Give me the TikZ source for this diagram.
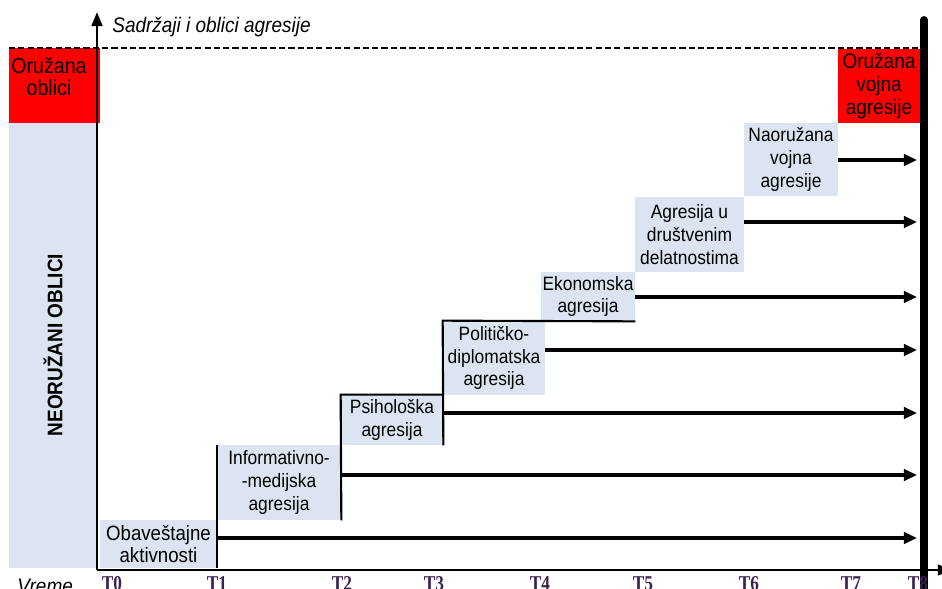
\documentclass[tikz,border=0pt]{standalone}
\usepackage{fontspec}
\setmainfont{Liberation Sans}[FakeStretch=0.9]
\newfontfamily\tfont{Liberation Serif}[FakeStretch=0.82]
\usetikzlibrary{arrows.meta}
\definecolor{boxblue}{RGB}{219,228,240}
\definecolor{tcol}{RGB}{60,32,80}
\begin{document}
\begin{tikzpicture}[x=0.02cm,y=-0.02cm,
  box/.style={fill=boxblue, inner sep=0pt, align=center, font=\fontsize{11}{13}\selectfont},
  redbox/.style={fill=red, inner sep=0pt},
  txt/.style={inner sep=0pt, align=center, font=\fontsize{12.4}{12.6}\selectfont},
  arr/.style={line width=1.8pt, -{Triangle[length=7.5pt,width=6.5pt]}},
  stair/.style={line width=1.2pt},
  lbl/.style={font=\tfont\bfseries\fontsize{12}{13}\selectfont, text=tcol, anchor=base, inner sep=0pt}]
\useasboundingbox (0,0) rectangle (942,588);

% side panels
\node[box, minimum width=1.76cm, minimum height=8.9cm] (blueL) at (53,345.5) {};
\node[redbox, minimum width=1.82cm, minimum height=1.5cm] (redL) at (54.5,85.5) {};
\node[txt] (redLt) at (49,77) {Oružana\\oblici};
\node[redbox, minimum width=1.64cm, minimum height=1.5cm, align=center, font=\fontsize{12}{13.2}\selectfont] (redR) at (879,86) {Oružana\\vojna\\agresije};
\node[rotate=90, inner sep=0pt, font=\fontsize{12}{13}\selectfont\bfseries] (neo) at (53,345) {NEORUŽANI OBLICI};

% boxes
\node[box, minimum width=2.34cm, minimum height=0.96cm, font=\fontsize{11.8}{12.6}\selectfont] (obav) at (158.5,544) {Obaveštajne\\aktivnosti};
\node[box, minimum width=2.48cm, minimum height=1.50cm] (info) at (279,482.5) {Informativno-\\-medijska\\agresija};
\node[box, minimum width=2.04cm, minimum height=1.00cm] (psih) at (392,420) {Psihološka\\agresija};
\node[box, minimum width=2.04cm, minimum height=1.48cm] (polit) at (494,358) {Političko-\\diplomatska\\agresija};
\node[box, minimum width=1.88cm, minimum height=0.98cm] (ekon) at (588,296.5) {Ekonomska\\agresija};
\node[box, minimum width=2.18cm, minimum height=1.50cm] (drust) at (689.5,234.5) {Agresija u\\društvenim\\delatnostima};
\node[box, minimum width=1.88cm, minimum height=1.46cm] (naor) at (791,159.5) {Naoružana\\vojna\\agresije};

% staircase outline
\draw[stair] (info.north west) -- (info.south west |- obav.south);
\draw[stair] (info.south east) -- (psih.north west) -- (psih.north east);
\draw[stair] (psih.south east) -- (polit.north west) -- (ekon.south east);

% arrows
\coordinate (e1) at (917,538);
\coordinate (e2) at (917,475);
\coordinate (e3) at (917,413);
\coordinate (e4) at (917,350);
\coordinate (e5) at (917,297);
\coordinate (e6) at (917,222);
\coordinate (e7) at (917,160);
\draw[arr] (obav.east |- e1) -- (e1);
\draw[arr] (info.east |- e2) -- (e2);
\draw[arr] (psih.east |- e3) -- (e3);
\draw[arr] (polit.east |- e4) -- (e4);
\draw[arr] (ekon.east |- e5) -- (e5);
\draw[arr] (drust.east |- e6) -- (e6);
\draw[arr] (naor.east |- e7) -- (e7);

% dashed border line
\coordinate (d1) at (9,48);
\coordinate (d2) at (922,48);
\draw[line width=0.6pt, dash pattern=on 3.5pt off 1.8pt] (d1) -- (d2);

% axes
\coordinate (O) at (97,570);
\coordinate (ytop) at (97,12);
\coordinate (xend) at (952,570);
\draw[line width=1.7pt, -{Triangle[length=8pt,width=6pt]}] (O) -- (ytop);
\draw[line width=1.2pt, -{Triangle[length=8pt,width=6pt]}] (O) -- (xend);

% right bar
\coordinate (bt) at (924,20);
\coordinate (bb) at (924,610);
\draw[line width=4.5pt, line cap=round] (bt) -- (bb);

% labels
\node[anchor=west, inner sep=0pt, font=\fontsize{12}{13}\selectfont\itshape] (title) at (112,27) {Sadržaji i oblici agresije};
\node[anchor=base west, inner sep=0pt, font=\fontsize{12}{13}\selectfont\itshape] (vreme) at (17,593) {Vreme};
\node[lbl] (T0) at (112,590) {T0};
\node[lbl] (T1) at (217,590) {T1};
\node[lbl] (T2) at (342,590) {T2};
\node[lbl] (T3) at (434,590) {T3};
\node[lbl] (T4) at (540,590) {T4};
\node[lbl] (T5) at (643,590) {T5};
\node[lbl] (T6) at (749,590) {T6};
\node[lbl] (T7) at (851,590) {T7};
\node[lbl] (T8) at (918,590) {T8};
\end{tikzpicture}
\end{document}
